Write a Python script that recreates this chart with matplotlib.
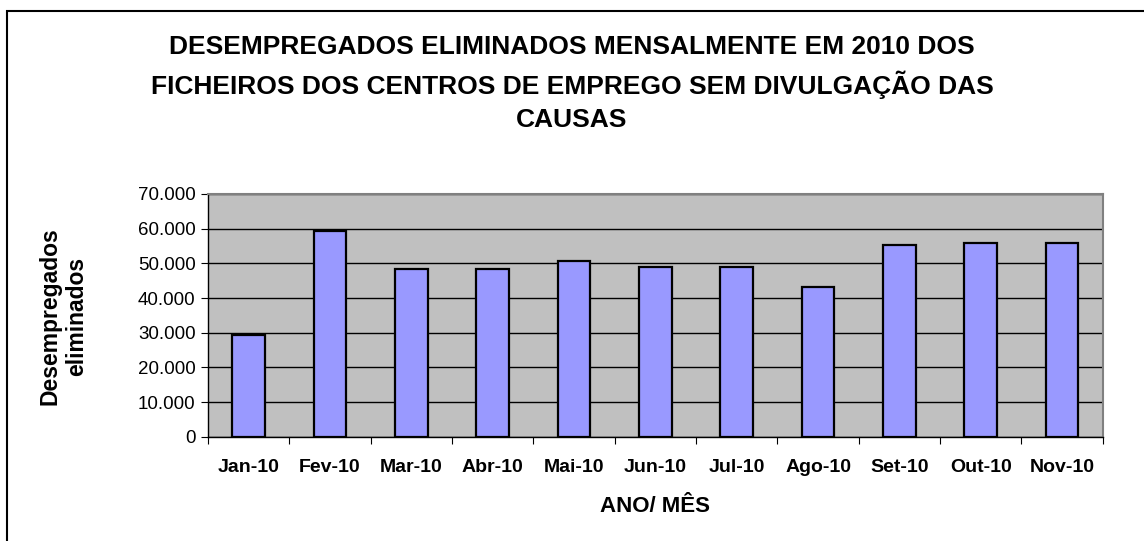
import matplotlib
matplotlib.use("Agg")
import matplotlib.pyplot as plt
from matplotlib.ticker import FuncFormatter, FixedLocator
from matplotlib.patches import Rectangle

months = ["Jan-10", "Fev-10", "Mar-10", "Abr-10", "Mai-10", "Jun-10",
          "Jul-10", "Ago-10", "Set-10", "Out-10", "Nov-10"]
values = [29400, 59400, 48400, 48400, 50600, 48900, 48900, 43200, 55300, 55900, 55900]

title_lines = ["DESEMPREGADOS ELIMINADOS MENSALMENTE EM 2010 DOS",
               "FICHEIROS DOS CENTROS DE EMPREGO SEM DIVULGAÇÃO DAS",
               "CAUSAS"]
ylabel_lines = ["Desempregados", "eliminados"]
xlabel = "ANO/ MÊS"

plt.rcParams['font.family'] = ['Liberation Sans', 'DejaVu Sans']

W, H = 1144, 541
fig = plt.figure(figsize=(W / 100, H / 100), dpi=100)
fig.patch.set_facecolor('white')

# chart border (right and bottom edges lie outside the picture)
fig.add_artist(Rectangle((7 / W, -0.02), (W + 10) / W, 1.02 - 11 / H,
                         transform=fig.transFigure, fill=False,
                         edgecolor='black', linewidth=1.5, clip_on=False))

left, right, top, bottom = 208, 1102.7, 194, 436.7
ax = fig.add_axes([left / W, 1 - bottom / H, (right - left) / W, (bottom - top) / H])
ax.set_facecolor('#C0C0C0')

x = list(range(len(months)))
ax.bar(x, values, width=0.4, color='#9999FF', edgecolor='black', linewidth=1.6, zorder=3)

ax.set_xlim(-0.5, len(months) - 0.5)
ax.set_ylim(0, 70000)
ax.set_yticks(range(0, 70001, 10000))
ax.yaxis.set_major_formatter(FuncFormatter(lambda v, p: f"{int(v):,}".replace(",", ".")))
ax.grid(axis='y', color='black', linewidth=1, zorder=1)

ax.xaxis.set_major_locator(FixedLocator([i - 0.5 for i in range(len(months) + 1)]))
ax.set_xticklabels([])
ax.xaxis.set_minor_locator(FixedLocator(x))
ax.set_xticklabels(months, minor=True, fontsize=14, fontweight='bold')
ax.tick_params(axis='x', which='minor', length=0, pad=16)
ax.tick_params(axis='x', which='major', length=5, color='black', direction='out')
ax.tick_params(axis='y', length=5, color='black', direction='out', labelsize=13.5, pad=4)

for s in ['left', 'bottom']:
    ax.spines[s].set_color('black')
    ax.spines[s].set_linewidth(1)
for s in ['top', 'right']:
    ax.spines[s].set_color('#808080')
    ax.spines[s].set_linewidth(1.5)

for line, yc in zip(title_lines, [47.5, 84.5, 120]):
    fig.text(0.5, 1 - yc / H, line, ha='center', va='center',
             fontsize=19, fontweight='bold')
for line, xc in zip(ylabel_lines, [50, 77]):
    fig.text(xc / W, 1 - 316 / H, line, rotation=90,
             ha='center', va='center', fontsize=16.5, fontweight='bold')
fig.text(655 / W, 1 - 507 / H, xlabel, ha='center', va='center',
         fontsize=16, fontweight='bold')

fig.savefig("out.png", dpi=100)
